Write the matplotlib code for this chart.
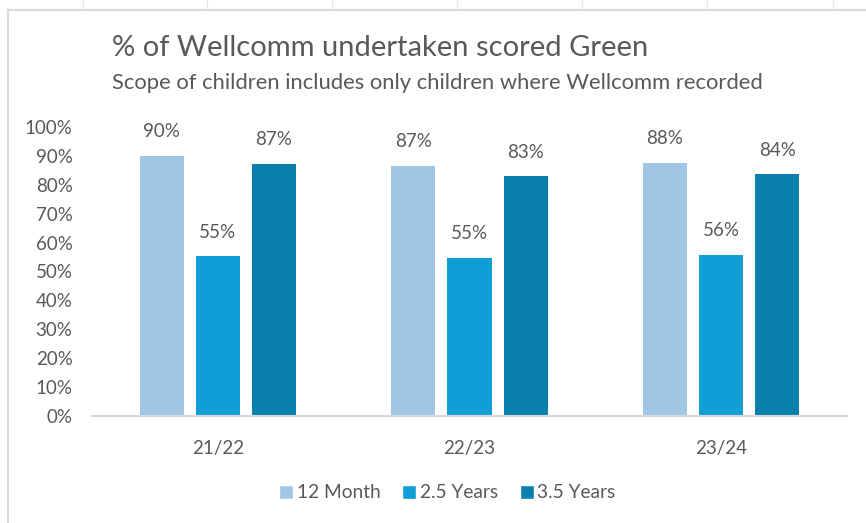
import numpy as np
import matplotlib.pyplot as plt
from matplotlib.lines import Line2D

# 数据
years = ['21/22', '22/23', '23/24']
series_names = ['12 Month', '2.5 Years', '3.5 Years']
month_12 = [0.90, 0.866, 0.876]
years_25 = [0.552, 0.548, 0.558]
years_35 = [0.871, 0.829, 0.836]
colors = ['#A0C6E6', '#0F9ED5', '#0B80AF']

text_col = '#595959'
plt.rcParams['font.family'] = ['Lato', 'DejaVu Sans']

fig = plt.figure(figsize=(8.66, 5.23), dpi=100)
ax = fig.add_axes([92 / 866, 107 / 523, 755 / 866, 289 / 523])

x = np.arange(len(years))
width = 0.175
step = 0.223
for k, (vals, name) in enumerate(zip([month_12, years_25, years_35], series_names)):
    pos = x + (k - 1) * step
    ax.bar(pos, vals, width, color=colors[k], label=name, zorder=2)
    for p, v in zip(pos, vals):
        ax.text(p, v + 0.055, f'{v:.0%}', ha='center', va='bottom',
                fontsize=13.5, color=text_col)

ax.set_xlim(-0.5, 2.5)
ax.set_ylim(0, 1)
ax.set_yticks(np.arange(0, 1.01, 0.1))
ax.set_yticklabels([f'{int(round(t * 100))}%' for t in np.arange(0, 1.01, 0.1)])
ax.set_xticks(x)
ax.set_xticklabels(years)
ax.tick_params(axis='both', length=0, labelsize=13.5, colors=text_col)
ax.tick_params(axis='y', pad=14)
ax.tick_params(axis='x', pad=17)
for s in ['top', 'right', 'left']:
    ax.spines[s].set_visible(False)
ax.spines['bottom'].set_color('#D9D9D9')
ax.spines['bottom'].set_linewidth(1.5)

# 标题
fig.text(112 / 866, 1 - 48 / 523, '% of Wellcomm undertaken scored Green',
         fontsize=21, color=text_col, va='center', ha='left')
fig.text(112 / 866, 1 - 83 / 523,
         'Scope of children includes only children where Wellcomm recorded',
         fontsize=15.8, color=text_col, va='center', ha='left')

# 图例
handles = [Line2D([0], [0], marker='s', color='w', markerfacecolor=c,
                  markersize=10, label=n) for c, n in zip(colors, series_names)]
fig.legend(handles=handles, loc='center', bbox_to_anchor=(446 / 866, 1 - 493 / 523),
           ncol=3, frameon=False, fontsize=13.8, labelcolor=text_col,
           handletextpad=0.05, columnspacing=1.0, handlelength=1.0)

# 边框
fig.add_artist(Line2D([8 / 866, 8 / 866], [0, 1 - 10 / 523], color='#D9D9D9', lw=1.5))
fig.add_artist(Line2D([8 / 866, 1], [1 - 10 / 523, 1 - 10 / 523], color='#D9D9D9', lw=1.5))
for gx in [83, 207, 332, 457, 582, 707, 833]:
    fig.add_artist(Line2D([gx / 866, gx / 866], [1 - 9 / 523, 1], color='#E6E6E6', lw=0.8))

fig.savefig('out.png', dpi=100)
